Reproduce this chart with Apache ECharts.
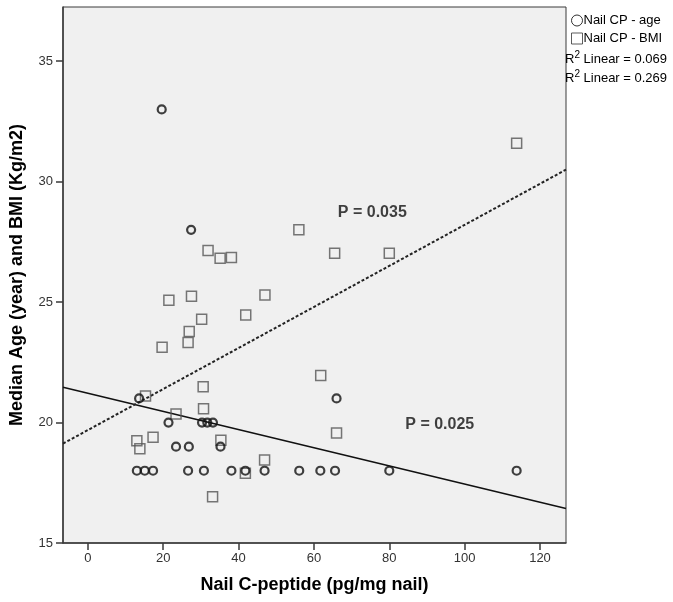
<!DOCTYPE html>
<html>
<head>
<meta charset="utf-8">
<script src="https://cdn.jsdelivr.net/npm/echarts@6/dist/echarts.min.js"></script>
<style>
  html, body { margin: 0; padding: 0; background: #fff; }
  #chart { width: 673px; height: 602px; }
</style>
</head>
<body>
<div id="chart"></div>
<script>
// nail C-peptide vs median age
var ageX = [19.6, 27.4, 13.6, 66.0, 21.4, 30.3, 31.7, 33.2, 23.4, 26.8, 35.2,
  13.0, 15.1, 17.3, 26.6, 30.8, 38.1, 41.8, 46.9, 56.1, 61.7, 65.6, 80.0, 113.8];
var ageY = [33, 28, 21, 21, 20, 20, 20, 20, 19, 19, 19,
  18, 18, 18, 18, 18, 18, 18, 18, 18, 18, 18, 18, 18];

// nail C-peptide vs BMI
var bmiX = [113.8, 56.0, 31.9, 35.1, 38.1, 65.5, 80.0, 21.5, 27.5, 47.0, 30.2, 41.9,
  26.9, 26.6, 19.7, 61.8, 15.3, 30.6, 30.7, 23.4, 66.0, 13.0, 13.8, 17.3, 35.3,
  46.9, 41.8, 33.1];
var bmiY = [31.59, 28.0, 27.14, 26.82, 26.85, 27.03, 27.03, 25.08, 25.24, 25.29, 24.29, 24.46,
  23.78, 23.32, 23.13, 21.95, 21.10, 21.49, 20.57, 20.35, 19.57, 19.24, 18.91, 19.39, 19.27,
  18.45, 17.90, 16.92];

var xTicks = [0, 20, 40, 60, 80, 100, 120];
var yTicks = [15, 20, 25, 30, 35];
var xMin = -6.6, xMax = 126.9, yMin = 15, yMax = 37.25;

// reported R squared values and p value notes
var r2Labels = ['0.069', '0.269'];
var pNotes = [[75.5, 28.7, 'P = 0.035'], [93.4, 19.93, 'P = 0.025']];

function pairs(xs, ys) {
  return xs.map(function (x, i) { return [x, ys[i]]; });
}

// least squares fit, drawn across the full axis
function fitLine(xs, ys) {
  var n = xs.length, mx = 0, my = 0;
  for (var i = 0; i < n; i++) { mx += xs[i]; my += ys[i]; }
  mx /= n; my /= n;
  var sxy = 0, sxx = 0;
  for (var j = 0; j < n; j++) {
    sxy += (xs[j] - mx) * (ys[j] - my);
    sxx += (xs[j] - mx) * (xs[j] - mx);
  }
  var b = sxy / sxx, a = my - b * mx;
  return [[xMin, a + b * xMin], [xMax, a + b * xMax]];
}

var font = '"Liberation Sans", Arial, sans-serif';

function r2Text(top, val) {
  return {
    type: 'text', left: 565, top: top,
    style: {
      text: '{a|R}{b|2}{a| Linear = ' + val + '}',
      rich: {
        a: { fontFamily: font, fontSize: 13, fill: '#000', lineHeight: 16 },
        b: { fontFamily: font, fontSize: 10, fill: '#000', lineHeight: 16, padding: [0, 0, 8, 0] }
      }
    }
  };
}

var chart = echarts.init(document.getElementById('chart'));
var option = {
  animation: false,
  backgroundColor: '#fff',
  textStyle: { fontFamily: font },
  grid: {
    left: 63, top: 7, width: 503, height: 536,
    show: true, backgroundColor: '#f0f0f0',
    borderColor: '#3a3a3a', borderWidth: 1
  },
  legend: {
    orient: 'vertical',
    left: 566, top: 9,
    itemWidth: 11, itemHeight: 11, itemGap: 5,
    textStyle: { fontFamily: font, fontSize: 13, color: '#000', padding: [0, 0, 0, -4] },
    data: [
      { name: 'Nail CP - age', icon: 'circle',
        itemStyle: { color: 'transparent', borderColor: '#000', borderWidth: 1 } },
      { name: 'Nail CP - BMI', icon: 'rect',
        itemStyle: { color: 'transparent', borderColor: '#333', borderWidth: 1 } }
    ]
  },
  graphic: [r2Text(50, r2Labels[0]), r2Text(69, r2Labels[1])],
  xAxis: {
    type: 'value', min: xMin, max: xMax,
    name: 'Nail C-peptide (pg/mg nail)',
    nameLocation: 'middle', nameGap: 33,
    nameTextStyle: { fontFamily: font, fontSize: 18, fontWeight: 'bold', color: '#000' },
    axisLine: { show: true, onZero: false, lineStyle: { color: '#3a3a3a', width: 1.5 } },
    axisTick: { show: true, length: 7, customValues: xTicks, lineStyle: { color: '#3a3a3a', width: 1.5 } },
    axisLabel: { customValues: xTicks, margin: 9, fontSize: 13, color: '#333', fontFamily: font },
    splitLine: { show: false }
  },
  yAxis: {
    type: 'value', min: yMin, max: yMax,
    name: 'Median Age (year) and BMI (Kg/m2)',
    nameLocation: 'middle', nameGap: 37,
    nameTextStyle: { fontFamily: font, fontSize: 18, fontWeight: 'bold', color: '#000' },
    axisLine: { show: true, onZero: false, lineStyle: { color: '#3a3a3a', width: 1.5 } },
    axisTick: { show: true, length: 7, customValues: yTicks, lineStyle: { color: '#3a3a3a', width: 1.5 } },
    axisLabel: { customValues: yTicks, margin: 10, fontSize: 13, color: '#333', fontFamily: font },
    splitLine: { show: false }
  },
  series: [
    {
      name: 'age fit', type: 'line', data: fitLine(ageX, ageY),
      symbol: 'none', silent: true, z: 1,
      lineStyle: { color: '#111', width: 1.5 }
    },
    {
      name: 'BMI fit', type: 'line', data: fitLine(bmiX, bmiY),
      symbol: 'none', silent: true, z: 1,
      lineStyle: { color: '#222', width: 2, type: [3, 2] }
    },
    {
      name: 'Nail CP - BMI', type: 'scatter', data: pairs(bmiX, bmiY),
      symbol: 'rect', symbolSize: 10, z: 2,
      itemStyle: { color: 'transparent', borderColor: '#555', borderWidth: 1.5 }
    },
    {
      name: 'Nail CP - age', type: 'scatter', data: pairs(ageX, ageY),
      symbol: 'circle', symbolSize: 8, z: 3,
      itemStyle: { color: 'transparent', borderColor: '#111', borderWidth: 2.2 }
    },
    {
      name: 'notes', type: 'scatter', data: pNotes,
      symbolSize: 0, silent: true, z: 4,
      label: {
        show: true, position: 'inside',
        formatter: function (p) { return p.value[2]; },
        fontFamily: font, fontSize: 16, fontWeight: 'bold', color: '#111'
      }
    }
  ]
};
chart.setOption(option);
</script>
</body>
</html>
